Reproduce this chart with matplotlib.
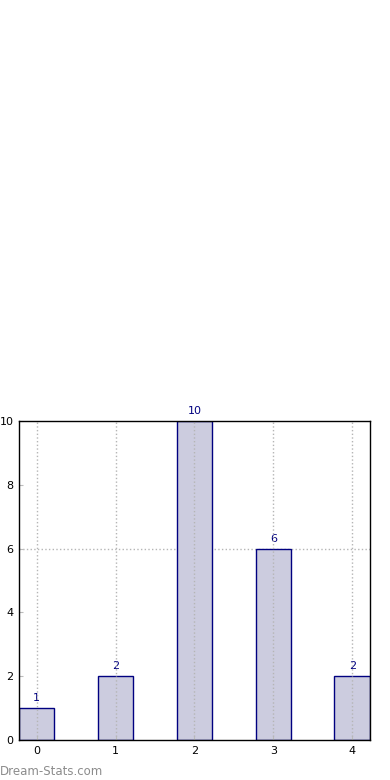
import matplotlib.pyplot as plt
import numpy as np

categories = [0, 1, 2, 3, 4]
counts = [1, 2, 10, 6, 2]
ref_level = 6
bar_width = 0.45

fig = plt.figure(figsize=(3.9, 7.8), dpi=100)
ax = fig.add_axes([0.0487, 0.0513, 0.9, 0.409])

bars = ax.bar(categories, counts, width=bar_width, color="#ccccdf",
              edgecolor="#000080", linewidth=1.0, zorder=1)
for x, v in zip(categories, counts):
    ax.text(x, v + 0.15, str(v), ha="center", va="bottom",
            color="#000080", fontsize=8)

ax.set_xlim(categories[0] - bar_width / 2, categories[-1] + bar_width / 2)
ax.set_ylim(0, 10)
ax.set_xticks(categories)
ax.set_yticks(np.arange(0, 11, 2))
ax.tick_params(labelsize=8, length=3, color="#bbbbbb", direction="in", pad=4)
for x in categories:
    ax.axvline(x, color="#b5b5b5", linestyle=":", linewidth=1.0, zorder=3)
ax.axhline(ref_level, color="#b5b5b5", linestyle=":", linewidth=1.0, zorder=0.5)

for s in ax.spines.values():
    s.set_color("black")
    s.set_linewidth(1.0)
    s.set_zorder(4)

fig.text(0.0, 0.0115, "Dream-Stats.com", color="#8c8c8c", fontsize=8.5,
         ha="left", va="center")

fig.savefig("out.png", dpi=100)
